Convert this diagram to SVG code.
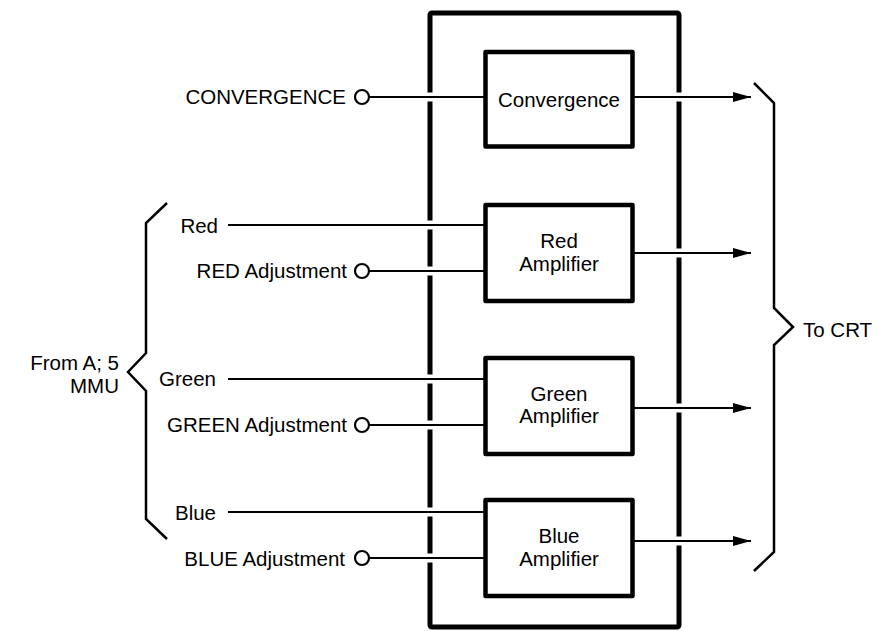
<svg xmlns="http://www.w3.org/2000/svg" width="882" height="631" viewBox="0 0 882 631">
<defs>
<style>
text{font-family:"Liberation Sans",Arial,sans-serif;font-size:20.5px;fill:#000}
.box{fill:#fff;stroke:#000;stroke-width:4.5;stroke-linejoin:round}
.outer{fill:none;stroke:#000;stroke-width:5;stroke-linejoin:round}
.ln{fill:none;stroke:#000;stroke-width:2}
.br{fill:none;stroke:#000;stroke-width:2.5;stroke-linejoin:miter}
.term{fill:#fff;stroke:#000;stroke-width:2.2}
.gap{fill:#fff;stroke:none}
</style>
<marker id="arr" markerUnits="userSpaceOnUse" markerWidth="20" markerHeight="12" refX="18" refY="6" orient="auto">
<path d="M0,1 L18,6 L0,11 Z" fill="#000"/>
</marker>
</defs>
<g id="enclosure">
<rect class="outer" x="430" y="13" width="249" height="614" rx="2"/>
<rect class="gap" x="426" y="220.5" width="8" height="9"/>
<rect class="gap" x="426" y="266.5" width="8" height="9"/>
<rect class="gap" x="426" y="374.5" width="8" height="9"/>
<rect class="gap" x="426" y="420.5" width="8" height="9"/>
<rect class="gap" x="426" y="507.5" width="8" height="9"/>
<rect class="gap" x="426" y="553.5" width="8" height="9"/>
<rect class="gap" x="426" y="92.5" width="8" height="9"/>
<rect class="gap" x="675" y="92.5" width="8" height="9"/>
<rect class="gap" x="675" y="248.5" width="8" height="9"/>
<rect class="gap" x="675" y="403.5" width="8" height="9"/>
<rect class="gap" x="675" y="536.5" width="8" height="9"/>
</g>
<g id="connectors">
<line class="ln" x1="369" y1="97" x2="485" y2="97"/>
<line class="ln" x1="633" y1="97" x2="751" y2="97" marker-end="url(#arr)"/>
<line class="ln" x1="228" y1="225" x2="485" y2="225"/>
<line class="ln" x1="369" y1="271" x2="485" y2="271"/>
<line class="ln" x1="633" y1="253" x2="751" y2="253" marker-end="url(#arr)"/>
<line class="ln" x1="228" y1="379" x2="485" y2="379"/>
<line class="ln" x1="369" y1="425" x2="485" y2="425"/>
<line class="ln" x1="633" y1="408" x2="751" y2="408" marker-end="url(#arr)"/>
<line class="ln" x1="228" y1="512" x2="485" y2="512"/>
<line class="ln" x1="369" y1="558" x2="485" y2="558"/>
<line class="ln" x1="633" y1="541" x2="751" y2="541" marker-end="url(#arr)"/>
</g>
<g id="convergence">
<rect class="box" x="485.5" y="52" width="147" height="94.5"/>
<text x="559" y="107" text-anchor="middle">Convergence</text>
</g>
<g id="red-amp">
<rect class="box" x="485.5" y="205" width="147" height="96"/>
<text x="559" y="248" text-anchor="middle">Red</text>
<text x="559" y="271" text-anchor="middle">Amplifier</text>
</g>
<g id="green-amp">
<rect class="box" x="485.5" y="358" width="147" height="96"/>
<text x="559" y="401" text-anchor="middle">Green</text>
<text x="559" y="423" text-anchor="middle">Amplifier</text>
</g>
<g id="blue-amp">
<rect class="box" x="485.5" y="500" width="147" height="96"/>
<text x="559" y="543" text-anchor="middle">Blue</text>
<text x="559" y="566" text-anchor="middle">Amplifier</text>
</g>
<g id="convergence-in">
<circle class="term" cx="362" cy="97" r="7"/>
<text x="346" y="104" text-anchor="end">CONVERGENCE</text>
</g>
<g id="red-in">
<text x="218" y="233" text-anchor="end">Red</text>
</g>
<g id="red-adj">
<circle class="term" cx="362" cy="271" r="7"/>
<text x="347" y="278" text-anchor="end">RED Adjustment</text>
</g>
<g id="green-in">
<text x="216" y="386" text-anchor="end">Green</text>
</g>
<g id="green-adj">
<circle class="term" cx="362" cy="425" r="7"/>
<text x="347" y="432" text-anchor="end">GREEN Adjustment</text>
</g>
<g id="blue-in">
<text x="216" y="520" text-anchor="end">Blue</text>
</g>
<g id="blue-adj">
<circle class="term" cx="362" cy="558" r="7"/>
<text x="345" y="566" text-anchor="end">BLUE Adjustment</text>
</g>
<g id="from-mmu">
<path class="br" d="M167,203 L146,223 L146,353 L128,372 L146,391 L146,519 L167,539"/>
<text x="119" y="370" text-anchor="end">From A; 5</text>
<text x="119" y="393" text-anchor="end">MMU</text>
</g>
<g id="to-crt">
<path class="br" d="M754,83 L774,103 L774,308 L793,327 L774,345 L774,552 L754,571"/>
<text x="803" y="337">To CRT</text>
</g>
</svg>
